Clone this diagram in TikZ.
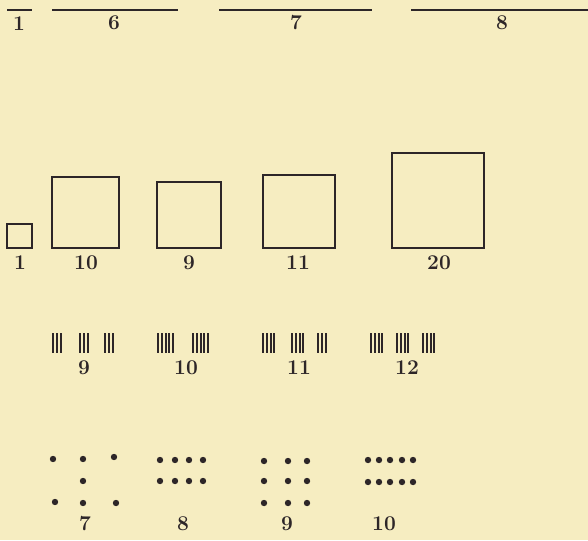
\documentclass[tikz,border=0pt]{standalone}
\usepackage{tikz}
\definecolor{paper}{RGB}{246,237,193}
\definecolor{ink}{RGB}{45,38,40}
\tikzset{
  numlabel/.style={inner sep=0pt, text=ink, font=\fontsize{21}{22}\selectfont\bfseries},
  rule/.style={ink, line width=1.8pt},
  sq/.style={ink, line width=1.8pt},
  tally/.style={ink, line width=2pt},
  spot/.style={ink, fill=ink}
}
\begin{document}
\begin{tikzpicture}[x=1pt, y=-1pt]
            % Page (same size as the scan)
            \fill[paper] (0,0) rectangle (588,540);
            \useasboundingbox (0,0) rectangle (588,540);

            % Top row: lengths
            \draw[rule] (7,10) -- (32,10);
            \draw[rule] (52,10) -- (178,10);
            \draw[rule] (219,10) -- (372,10);
            \draw[rule] (411,10) -- (588,10);
            \node[numlabel] (len_one) at (19,24) {1};
            \node[numlabel] (len_six) at (114,23) {6};
            \node[numlabel] (len_seven) at (296,23) {7};
            \node[numlabel] (len_eight) at (502,23) {8};

            % Second row: squares
            \draw[sq] (7,224) rectangle (32,248);
            \draw[sq] (52,177) rectangle (119,248);
            \draw[sq] (157,182) rectangle (221,248);
            \draw[sq] (263,175) rectangle (335,248);
            \draw[sq] (392,153) rectangle (484,248);
            \node[numlabel] (sq_one) at (20,263) {1};
            \node[numlabel] (sq_ten) at (86,263) {10};
            \node[numlabel] (sq_nine) at (189,263) {9};
            \node[numlabel] (sq_eleven) at (298,263) {11};
            \node[numlabel] (sq_twenty) at (439,263) {20};

            % Third row: tally marks (group start / number of strokes)
            \foreach \x/\n in {53/3, 80/3, 105/3, 158/5, 193/5, 263/4, 292/4, 318/3, 371/4, 397/4, 423/4}
              \foreach \i in {1,...,\n}
                \draw[tally] ({\x+(\i-1)*3.8},333) -- ++(0,20);
            \node[numlabel] (tally_nine) at (84,368) {9};
            \node[numlabel] (tally_ten) at (186,368) {10};
            \node[numlabel] (tally_eleven) at (299,368) {11};
            \node[numlabel] (tally_twelve) at (407,368) {12};

            % Bottom row: dots
            \foreach \p in {(53,459), (83,459), (114,457), (83,481), (55,502), (83,503), (116,503)}
              \fill[spot] \p circle (3.2);
            \foreach \x in {160,175,189,203}
              \foreach \y in {460,481}
                \fill[spot] (\x,\y) circle (3.2);
            \foreach \x in {264,288,307}
              \foreach \y in {461,481,503}
                \fill[spot] (\x,\y) circle (3.2);
            \foreach \x in {368,379,390,402,413}
              \foreach \y in {460,482}
                \fill[spot] (\x,\y) circle (3.2);
            \node[numlabel] (dot_seven) at (85,524) {7};
            \node[numlabel] (dot_eight) at (183,524) {8};
            \node[numlabel] (dot_nine) at (287,524) {9};
            \node[numlabel] (dot_ten) at (384,524) {10};
        \end{tikzpicture}
\end{document}
